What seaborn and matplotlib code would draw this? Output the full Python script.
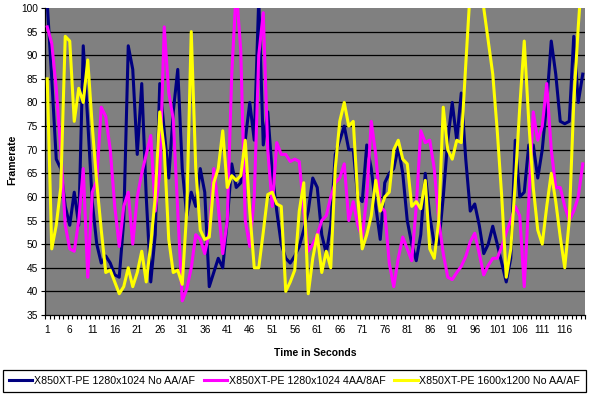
import matplotlib
matplotlib.use('Agg')
import pandas as pd
import matplotlib.pyplot as plt
from matplotlib.ticker import FixedLocator
import seaborn as sns

# frame rate per second
seconds = list(range(1, 121))

no_aa_1280 = [101, 85, 68, 66, 58, 54, 61, 54, 92, 76,
              59, 50, 46, 47.5, 46, 43.5, 43, 55, 92, 87,
              69, 84, 60, 42, 52, 84, 74, 64, 78, 87,
              66, 56, 61, 58, 66, 61, 41, 44, 47, 45,
              55, 67, 62, 63, 72, 80, 72, 102, 71, 78,
              65, 57, 50, 47, 46, 47.5, 49.5, 53, 57, 64,
              62, 52, 48, 54, 69, 72, 75, 70, 70, 60,
              59, 71, 66, 58, 51, 63, 65, 66, 70.5, 65,
              55, 50, 46.5, 52, 65, 56, 50, 50, 60, 72,
              80, 72, 82, 68, 57, 58.5, 54, 48, 50, 53.8,
              50, 46, 42, 47, 72, 60, 61, 71, 71, 64,
              70, 80, 93, 86, 76, 75.5, 76, 94, 80, 86]

aa_1280 = [96, 92.5, 83, 70, 54, 49, 48.5, 55, 66, 43,
           61, 63.5, 79, 77, 70, 58, 49.5, 58, 61, 50,
           60, 65, 69, 73, 57, 65, 96, 82, 76.5, 57,
           38, 40.5, 45, 52, 51, 48, 52.5, 66, 58, 48,
           55, 86, 104, 91, 55, 49.5, 60, 90, 99, 70,
           58, 71.5, 69, 69, 67.5, 68, 67.5, 57, 48.5, 50,
           52, 55, 56, 60, 63, 64, 67, 55, 59, 54,
           51.5, 60, 76, 69, 58, 57, 46, 41, 47, 51.5,
           49, 46.5, 58, 74, 71.5, 72, 66, 55, 48, 43,
           42.5, 44, 45.3, 47.4, 50.5, 52.3, 48, 43.5, 45.5, 47,
           47, 49.5, 52.5, 55, 58, 56, 41, 59, 78, 72,
           75, 84, 70, 62, 62, 58, 55, 57, 60, 67]

no_aa_1600 = [85, 49, 54, 62, 94, 93, 76, 83, 80, 89,
              75, 63, 53, 44, 44.5, 42, 39.5, 41, 45, 41,
              44, 48.5, 42, 50, 60, 78, 70, 51, 44, 44.5,
              41.5, 57, 95, 66, 53, 51, 51.5, 63, 66, 74,
              62, 64.5, 63.5, 64.5, 72, 57, 45, 45, 52.5, 60.5,
              61, 58.5, 58, 40, 42, 44.5, 57, 63, 39.5, 47,
              52, 44, 48.5, 45, 66, 76, 80, 75, 76, 60,
              49, 52, 56, 63.5, 57, 60, 61, 70, 72, 68,
              67, 58, 59, 57.5, 63.5, 49, 47, 55, 79, 70,
              68, 72, 71.5, 88, 104, 110, 108, 100, 93, 86,
              74, 60, 43, 49, 63, 79, 93, 76, 62, 53,
              50, 58, 65, 59, 51.5, 45, 55, 80, 96, 110]

series_names = ['X850XT-PE 1280x1024 No AA/AF',
                'X850XT-PE 1280x1024 4AA/8AF',
                'X850XT-PE 1600x1200 No AA/AF']
series_colors = ['#000080', '#FF00FF', '#FFFF00']
label_seconds = list(range(1, 117, 5))
y_ticks = list(range(35, 101, 5))

df = pd.DataFrame({
    'second': seconds * 3,
    'fps': no_aa_1280 + aa_1280 + no_aa_1600,
    'config': [n for n in series_names for _ in seconds],
})

plt.rcParams['font.family'] = ['Liberation Sans', 'DejaVu Sans']

fig = plt.figure(figsize=(5.89, 3.96), dpi=100)
ax = fig.add_axes([45 / 589, 1 - 315 / 396, 540 / 589, 307 / 396])
ax.set_facecolor('#808080')

# horizontal gridlines (black, like Excel)
ax.hlines(y_ticks[1:-1], 0.5, 120.5, colors='black', linewidth=0.9, zorder=1)

sns.lineplot(data=df, x='second', y='fps', hue='config',
             hue_order=series_names,
             palette=dict(zip(series_names, series_colors)),
             linewidth=2.2, ax=ax, zorder=3, legend=True)

ax.set_xlim(0.5, 120.5)
ax.set_ylim(35, 100)

ax.set_yticks(y_ticks)
ax.set_yticklabels([str(v) for v in y_ticks], fontsize=7.3)
ax.tick_params(axis='y', length=3, width=0.8, color='black', pad=2)

ax.set_xticks(label_seconds)
ax.set_xticklabels([str(v) for v in label_seconds], fontsize=7.3)
ax.tick_params(axis='x', which='major', length=0, pad=7)
ax.xaxis.set_minor_locator(FixedLocator([s - 0.5 for s in seconds] + [120.5]))
ax.tick_params(axis='x', which='minor', length=3, width=0.8, color='black')

for side in ['top', 'right']:
    ax.spines[side].set_visible(False)
for side in ['left', 'bottom']:
    ax.spines[side].set_color('black')
    ax.spines[side].set_linewidth(0.9)

ax.set_xlabel('Time in Seconds', fontsize=7.5, fontweight='bold')
ax.set_ylabel('Framerate', fontsize=7.5, fontweight='bold')
ax.xaxis.set_label_coords(0.5, -0.108)
ax.yaxis.set_label_coords(-0.052, 0.505)

handles, labels = ax.get_legend_handles_labels()
ax.get_legend().remove()
for h in handles:
    h.set_linewidth(2.2)
leg = fig.legend(handles, labels, loc='lower left',
                 bbox_to_anchor=(3 / 589, 4 / 396),
                 ncol=3, fontsize=7.7,
                 frameon=True, fancybox=False, framealpha=1,
                 edgecolor='black', handlelength=2.2, handletextpad=0.15,
                 columnspacing=0.8, borderaxespad=0, borderpad=0.55)
leg.get_frame().set_linewidth(0.9)

fig.savefig('out.png', dpi=100, facecolor='white')
